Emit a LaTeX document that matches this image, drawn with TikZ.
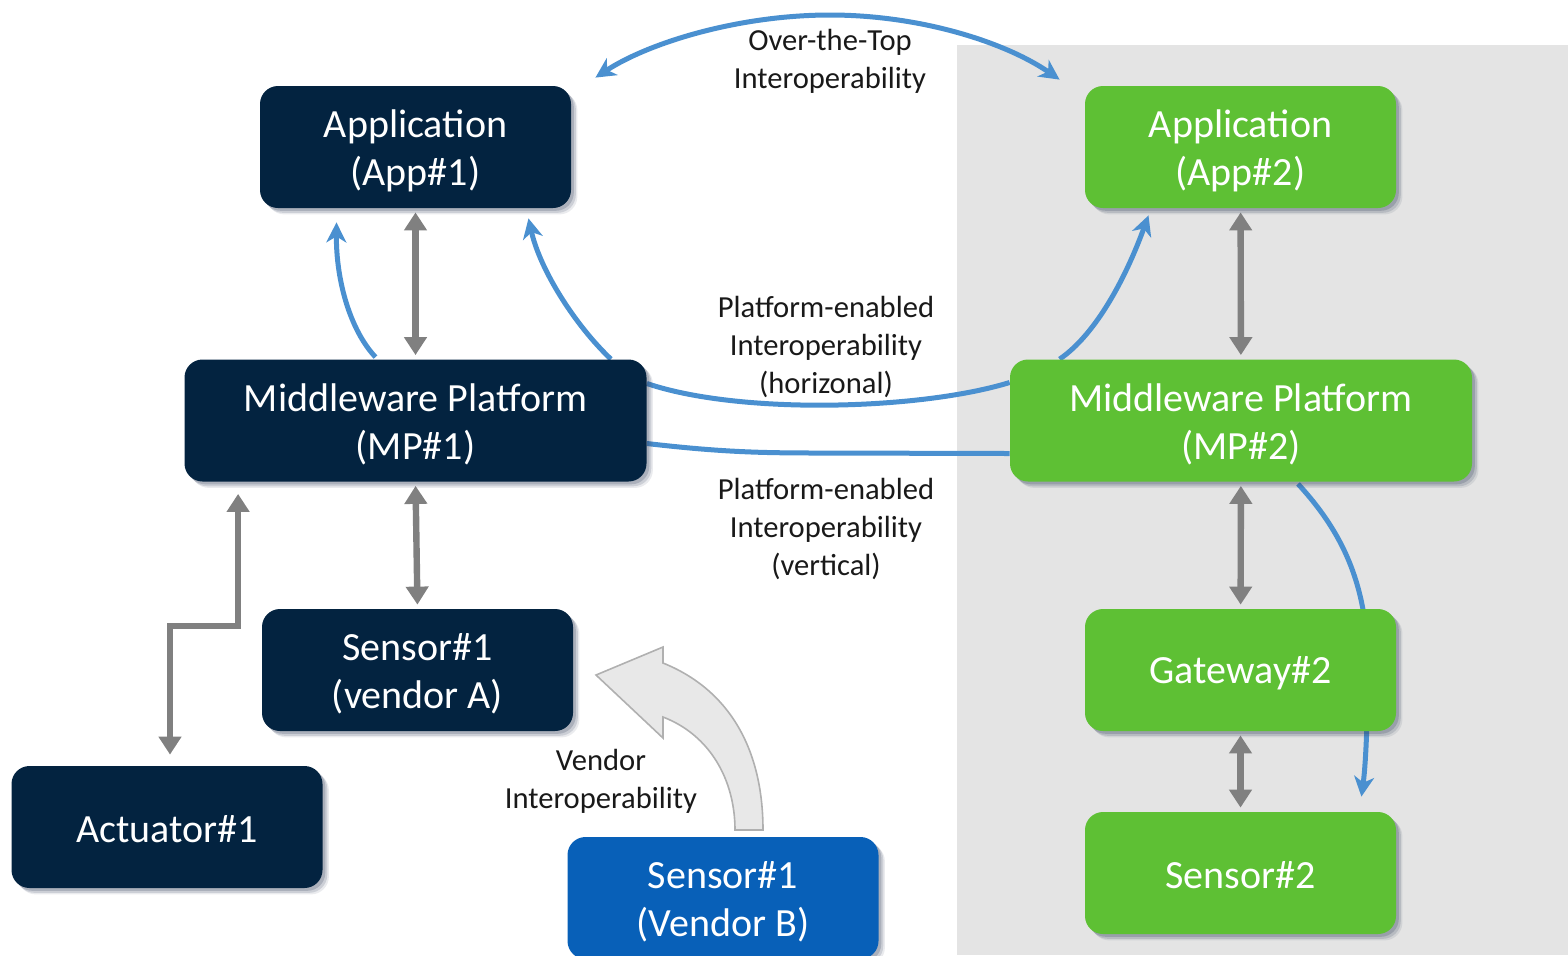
\documentclass[tikz,border=0pt]{standalone}
\usepackage{fontspec}
\setmainfont{Carlito}
\usetikzlibrary{arrows.meta,calc,shadows}
\definecolor{navy}{RGB}{3,35,64}
\definecolor{leaf}{RGB}{94,192,52}
\definecolor{vendorblue}{RGB}{8,96,184}
\definecolor{linkblue}{RGB}{74,144,208}
\definecolor{pipegrey}{RGB}{128,128,128}
\definecolor{panelgrey}{RGB}{228,228,228}
\definecolor{bendfill}{RGB}{232,232,232}
\definecolor{bendline}{RGB}{176,176,176}
\definecolor{shadowtone}{RGB}{50,62,90}
\pgfdeclarelayer{front}
\pgfsetlayers{main,front}
% lower a line of box text without changing its box
\newcommand\dropln[2][2pt]{\raisebox{-#1}[\height][\depth]{#2}}
\begin{document}
\begin{tikzpicture}[x=0.5pt,y=-0.5pt,
  box/.style={rounded corners=9pt, minimum width=155.5pt, minimum height=61pt,
    inner sep=0pt, text=white, align=center, font=\fontsize{20}{24}\selectfont,
    drop shadow={shadow xshift=3.2pt, shadow yshift=-3.2pt, fill=shadowtone, opacity=0.10},
    drop shadow={shadow xshift=2.4pt, shadow yshift=-2.4pt, fill=shadowtone, opacity=0.16},
    drop shadow={shadow xshift=1.4pt, shadow yshift=-1.4pt, fill=shadowtone, opacity=0.22}},
  wide/.style={minimum width=231pt},
  dark/.style={box, fill=navy},
  green/.style={box, fill=leaf},
  lbl/.style={align=center, text=black!90, font=\fontsize{15.3}{19}\selectfont},
  link/.style={draw=linkblue, line width=2.5pt},
  linkto/.style={link, -{Stealth[length=10pt,width=10pt,inset=3pt]}},
  linkboth/.style={link, {Stealth[length=10pt,width=10pt,inset=3pt]}-{Stealth[length=10pt,width=10pt,inset=3pt]}},
  pipe/.style={draw=pipegrey, line width=3.2pt, {Triangle[length=9pt,width=11pt]}-{Triangle[length=9pt,width=11pt]}, shorten <=2pt, shorten >=2pt},
]
\useasboundingbox (0,0) rectangle (1568,955);

% grey panel of the second domain
\fill[panelgrey] (957,45) rectangle (1568,955);

\begin{pgfonlayer}{front}
% boxes
\node[dark] (app1) at (415.5,147) {\dropln{Application}\\\dropln{(App\#1)}};
\node[dark,wide] (mp1) at (415.5,420.5) {\dropln{Middleware Platform}\\\dropln{(MP\#1)}};
\node[dark] (s1a) at (417.5,670) {\dropln{Sensor\#1}\\\dropln{(vendor A)}};
\node[dark] (act) at (167,827) {\dropln[1pt]{Actuator\#1}};
\node[box,fill=vendorblue] (s1b) at (723,898) {\dropln{Sensor\#1}\\\dropln{(Vendor B)}};

\node[green] (app2) at (1240.5,147) {\dropln{Application}\\\dropln{(App\#2)}};
\node[green,wide] (mp2) at (1241,420.5) {\dropln{Middleware Platform}\\\dropln{(MP\#2)}};
\node[green] (gw2) at (1240.5,670) {\dropln[1.5pt]{Gateway\#2}};
\node[green] (s2) at (1240.5,873) {\dropln[1pt]{Sensor\#2}};

% curved block arrow from vendor B sensor towards vendor A sensor
\draw[fill=bendfill, draw=bendline, line width=0.8pt, line join=miter]
  (596,675) -- (663,647) -- (663,663)
  .. controls (730,690) and (763,750) .. (763,830)
  -- (735,830)
  .. controls (735,780) and (710,735) .. (663,717)
  -- (663,738) -- cycle;
\end{pgfonlayer}

% labels
\node[lbl] (ott) at (830,61) {Over-the-Top\\Interoperability};
\node[lbl] (horiz) at (826,347) {Platform-enabled\\Interoperability\\(horizonal)};
\node[lbl] (vert) at (826,529) {Platform-enabled\\Interoperability\\(vertical)};
\node[lbl] (vend) at (601,781) {Vendor\\Interoperability};

% grey stack links
\draw[pipe] (app1) -- (mp1);
\draw[pipe] (mp1.south) -- (s1a.north);
\draw[pipe] (app2) -- (mp2);
\draw[pipe] (mp2) -- (gw2);
\draw[pipe] (gw2) -- (s2);
\draw[draw=pipegrey, line width=3.2pt, {Triangle[length=9pt,width=11pt]}-{Triangle[length=9pt,width=11pt]}]
  ($(mp1.south west)+(54,12)$) -- ++(0,132) -| ($(act.north)+(3,-11)$);

% blue interoperability links
\draw[linkboth] ($(app1.north east)+(24,-8)$) .. controls (650,42) and (740,15) .. (830,15)
  .. controls (920,15) and (1005,42) .. ($(app2.north west)+(-25,-6)$);
\draw[linkto] ($(mp1.north)+(-40,-2)$) .. controls (350,330) and (336,280) .. ($(app1.south)+(-79,14)$);
\draw[linkto] ($(mp1.north east)+(-36,0)$) .. controls (575,325) and (540,270) .. ($(app1.south)+(113,10)$);
\draw[link] ($(mp1.east)+(0,-37)$) .. controls (740,415) and (920,410) .. ($(mp2.west)+(0,-38)$);
\draw[link] ($(mp1.east)+(0,23)$) .. controls (720,452) and (760,453) .. (820,453) -- ($(mp2.west)+(0,33)$);
\draw[linkto] ($(mp2.north west)+(50,0)$) .. controls (1095,335) and (1125,280) .. ($(app2.south)+(-92,7)$);
\draw[linkto] ($(mp2.south)+(57,2)$) .. controls (1345,535) and (1370,590) .. (1368,680)
  .. controls (1367,740) and (1365,770) .. ($(s2.north east)+(-35,-15)$);
\end{tikzpicture}
\end{document}
